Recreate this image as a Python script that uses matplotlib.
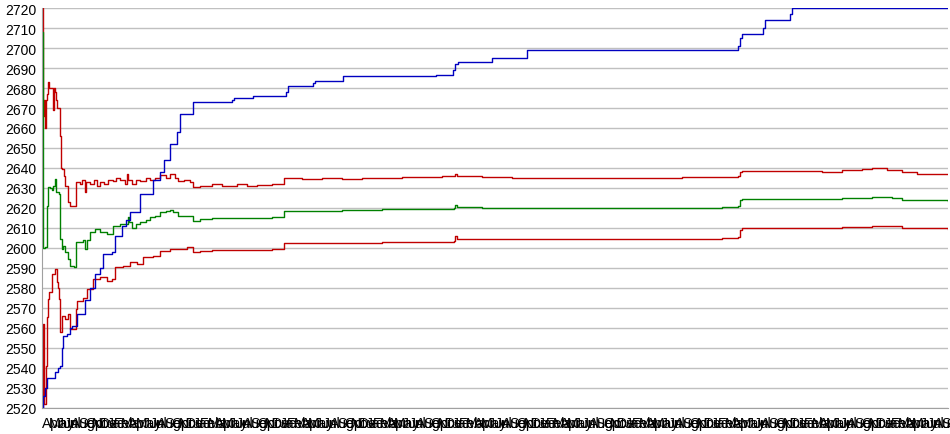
import matplotlib
matplotlib.use("Agg")
import matplotlib.pyplot as plt

plt.rcParams["font.family"] = ["Liberation Sans", "DejaVu Sans"]

# x = observation index, y = value
blue_x = [0, 1, 3, 5, 10, 13, 16, 18, 20, 21, 25, 28, 30, 35, 42, 43, 48, 53, 58, 61, 70, 73, 80,
          84, 88, 95, 98, 106, 111, 118, 122, 128, 134, 135, 138, 149, 151, 188, 190, 192, 210, 211,
          243, 244, 246, 269, 271, 273, 298, 301, 394, 411, 413, 416, 450, 485, 696, 698, 700, 721,
          723, 748, 750, 906]
blue_y = [2520, 2526, 2530, 2535, 2535, 2538, 2540, 2541, 2550, 2556, 2557, 2560, 2561, 2567, 2567,
          2574, 2580, 2587, 2590, 2597, 2598, 2606, 2611, 2614, 2618, 2618, 2627, 2627, 2634, 2638,
          2644, 2652, 2652, 2658, 2667, 2667, 2673, 2673, 2674, 2675, 2675, 2676, 2676, 2678, 2681,
          2681, 2682.5, 2683.5, 2683.5, 2686, 2686.5, 2689, 2692, 2693, 2695, 2699, 2701, 2705, 2707,
          2710, 2714, 2717, 2720, 2720]

up_x = [0, 1, 2, 3, 4, 5, 6, 7, 10, 11, 12, 13, 14, 15, 17, 18, 19, 20, 22, 23, 25, 26, 28, 32, 34,
        38, 40, 43, 44, 48, 52, 55, 58, 62, 66, 71, 74, 78, 83, 85, 86, 90, 94, 98, 104, 108, 113,
        118, 124, 128, 131, 133, 136, 142, 148, 151, 158, 170, 180, 195, 205, 215, 230, 242, 260,
        280, 300, 320, 340, 360, 380, 400, 412, 413, 415, 440, 470, 520, 560, 600, 640, 680, 696,
        698, 700, 740, 760, 780, 800, 820, 830, 845, 860, 875, 906]
up_y = [2720, 2666, 2674, 2660, 2674, 2677, 2683, 2680, 2680, 2669, 2680, 2678, 2674, 2670, 2670,
        2656, 2640, 2639.5, 2636, 2631, 2631, 2623, 2621, 2621, 2633, 2632, 2634, 2628, 2633, 2632,
        2634, 2631, 2633, 2632, 2634, 2633.5, 2635, 2634, 2632, 2637, 2634, 2632, 2634, 2633.5,
        2635, 2634, 2635, 2636.5, 2635, 2637, 2637, 2635, 2633.5, 2634, 2633, 2630.5, 2631, 2632,
        2631, 2632, 2631, 2631.5, 2632, 2635, 2634.5, 2635, 2634.5, 2635, 2635, 2635.5, 2635.5,
        2636, 2636, 2637, 2636, 2635.5, 2635, 2635, 2635, 2635, 2635.5, 2635.5, 2636, 2638, 2638.5,
        2638.5, 2638.5, 2638, 2639, 2639.5, 2640, 2639, 2638, 2637, 2637]

mid_x = [0, 1, 3, 5, 6, 8, 10, 11, 13, 14, 17, 18, 20, 21, 23, 26, 28, 32, 34, 38, 41, 43, 45, 48,
         53, 58, 65, 71, 78, 81, 86, 87, 90, 94, 98, 104, 108, 113, 118, 124, 128, 131, 136, 145,
         151, 158, 170, 195, 215, 230, 242, 260, 300, 340, 380, 412, 413, 415, 440, 470, 520, 600,
         680, 696, 698, 700, 760, 800, 830, 850, 860, 906]
mid_y = [2708, 2600, 2600.5, 2621, 2630.5, 2630, 2629, 2631, 2634.5, 2628, 2627, 2604.5, 2599.5,
         2601, 2598, 2594.5, 2591, 2590.5, 2603, 2603, 2604, 2599.5, 2604, 2608, 2609.5, 2608, 2607,
         2611, 2612, 2612, 2615.5, 2613, 2610, 2612, 2613, 2614, 2615.5, 2616, 2618, 2618.5, 2619,
         2618, 2616, 2616, 2613.5, 2614.5, 2615, 2615, 2615, 2615.5, 2618.5, 2618.5, 2619, 2619.5,
         2619.5, 2620, 2621.5, 2620.5, 2620, 2620, 2620, 2620, 2620.5, 2621, 2624, 2624.5, 2624.5,
         2625, 2625.5, 2625, 2624, 2623.5]

low_x = [0, 1, 2, 4, 5, 6, 7, 10, 13, 15, 16, 17, 18, 20, 23, 26, 28, 33, 34, 35, 41, 45, 51, 58,
         65, 70, 73, 81, 88, 95, 101, 111, 118, 128, 138, 145, 151, 158, 170, 195, 215, 230, 242,
         260, 300, 340, 380, 412, 413, 415, 440, 470, 520, 600, 680, 696, 698, 700, 760, 800, 830,
         850, 860, 906]
low_y = [2520, 2562, 2522, 2541, 2565.5, 2574.5, 2578, 2587, 2589.5, 2583, 2580, 2574.5, 2558, 2566,
         2564.5, 2567, 2559.5, 2559.5, 2569.5, 2573.5, 2575, 2579.5, 2584.5, 2585.5, 2583.5, 2584.5,
         2590.5, 2591, 2593, 2592, 2595.5, 2596, 2598.5, 2599.5, 2599.5, 2600.5, 2598, 2598.5, 2599,
         2599, 2599, 2599.5, 2602.5, 2602.5, 2602.5, 2603, 2603, 2603.5, 2606, 2604.5, 2604.5,
         2604.5, 2604.5, 2604.5, 2605, 2605.5, 2609, 2610, 2610, 2610.5, 2611, 2611, 2610, 2609.5]

months = ["Apr", "May", "Jun", "Jul", "Aug", "Sep", "Oct", "Nov", "Dec", "Jan", "Feb", "Mar"]
n_labels = 127
tick_labels = [months[i % 12] for i in range(n_labels)]

fig = plt.figure(figsize=(9.5, 4.35), dpi=100)
ax = fig.add_axes([0.0442, 0.0598, 0.9538, 0.9195])

ax.plot(low_x, low_y, color="#c00000", lw=1.0, drawstyle="steps-post")
ax.plot(up_x, up_y, color="#c00000", lw=1.0, drawstyle="steps-post")
ax.plot(mid_x, mid_y, color="#008000", lw=1.0, drawstyle="steps-post")
ax.plot(blue_x, blue_y, color="#0000c0", lw=1.0, drawstyle="steps-post")

ax.set_xlim(0, 906)
ax.set_ylim(2520, 2720)
ax.set_yticks(range(2520, 2721, 10))
step = 906 / (n_labels - 1)
ax.set_xticks([i * step for i in range(n_labels)])
ax.set_xticklabels(tick_labels, ha="left")
ax.tick_params(axis="both", length=0, labelsize=10)
ax.tick_params(axis="x", pad=6)
ax.tick_params(axis="y", pad=4)

ax.grid(axis="y", color="#c0c0c0", lw=1.0)
ax.set_axisbelow(True)
for s in ["top", "right"]:
    ax.spines[s].set_visible(False)
ax.spines["left"].set_color("#a0a0a0")
ax.spines["bottom"].set_color("#a0a0a0")

plt.savefig("out.png", dpi=100)
